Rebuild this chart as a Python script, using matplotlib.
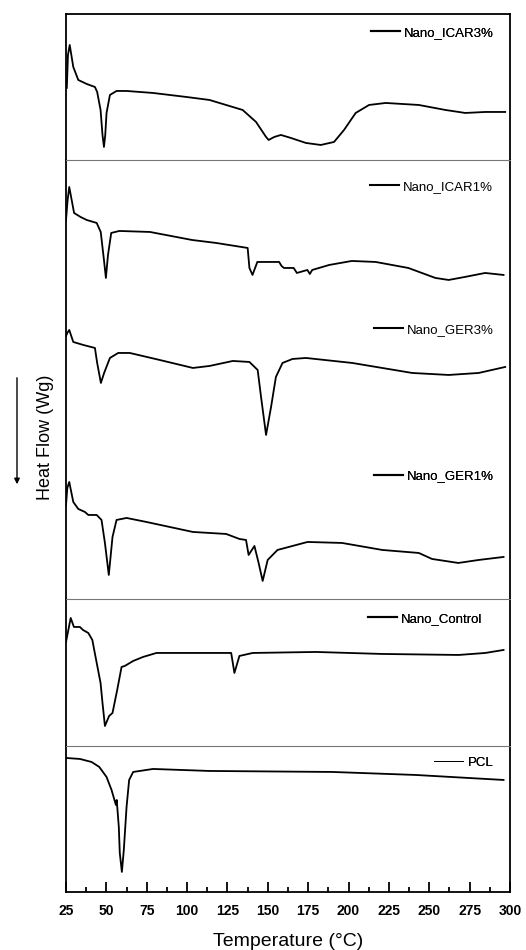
import matplotlib
matplotlib.use("Agg")
import matplotlib.pyplot as plt
from matplotlib.lines import Line2D
from matplotlib.patches import FancyArrowPatch
from matplotlib.ticker import MultipleLocator

plt.rcParams['font.family'] = ['Liberation Sans', 'DejaVu Sans']

# ---------------------------
# Data (heat flow in arbitrary units)
# ---------------------------
t_icar3 = [25.5, 26.2, 27.3, 28.5, 29.5, 32.6, 37.8, 42.9, 44.3, 46.4, 47.6, 48.5, 49.3, 50.1, 52.2,
           56.3, 62.5, 78.9, 99.5, 113.9, 120, 134.4, 142.7, 148.9, 150.5, 154, 158.1, 164.3, 173.6,
           182.8, 191, 197.2, 204.4, 212.7, 223, 243.5, 260, 272.3, 284.7, 297]
hf_icar3 = [7.2, 10.5, 11.5, 10.3, 9.3, 8.0, 7.6, 7.3, 6.8, 5.0, 2.5, 1.3, 2.5, 4.7, 6.5, 6.9, 6.9,
            6.7, 6.3, 6.0, 5.7, 5.0, 3.8, 2.3, 2.0, 2.3, 2.5, 2.2, 1.7, 1.5, 1.8, 3.0, 4.7, 5.5, 5.7,
            5.5, 5.0, 4.7, 4.8, 4.8]

t_icar1 = [25, 26, 27, 28.5, 30, 34, 37.8, 44, 46.5, 48.5, 49.7, 51, 53, 58, 77, 103, 118, 137.5,
           138.6, 140.5, 143.5, 157, 158.5, 160, 166, 168, 174.5, 176, 177.5, 188, 202, 216.8, 237,
           253.8, 262, 272, 284.6, 296]
hf_icar1 = [37.9, 39.9, 41.2, 39.9, 38.6, 38.2, 37.9, 37.6, 36.7, 33.9, 32.1, 34.4, 36.6, 36.8,
            36.7, 35.9, 35.6, 35.1, 33.1, 32.4, 33.7, 33.7, 33.3, 33.1, 33.1, 32.6, 32.9, 32.5, 32.9,
            33.4, 33.8, 33.7, 33.1, 32.1, 31.9, 32.2, 32.6, 32.4]

t_ger3 = [25, 25.8, 27, 29.5, 35.7, 42.9, 44.3, 46.6, 48.6, 52.2, 57.3, 64.5, 83, 103.6, 113.9,
          128.3, 138.6, 143.7, 145.8, 148.9, 152, 155, 159.1, 165.3, 173.6, 202.3, 239.4, 262, 280.6,
          297]
hf_ger3 = [26.3, 26.6, 26.9, 25.7, 25.4, 25.1, 23.6, 21.6, 22.6, 24.1, 24.6, 24.6, 23.9, 23.1, 23.3,
           23.8, 23.7, 22.9, 20.2, 16.4, 19.2, 22.2, 23.6, 24.0, 24.1, 23.6, 22.6, 22.4, 22.6, 23.2]

t_ger1 = [25, 25.8, 27, 29.5, 32.6, 36.7, 38.8, 44, 47, 49.1, 51.5, 53.8, 56.3, 62.5, 74.8, 103.6,
          124.2, 132.4, 136.5, 138.1, 141.7, 144.3, 146.8, 149.9, 156, 165.3, 174.6, 196, 220.9,
          243.5, 251.7, 268, 280.6, 296]
hf_ger1 = [9.4, 11.1, 11.7, 9.7, 9.0, 8.7, 8.4, 8.4, 7.9, 5.6, 2.4, 6.2, 7.9, 8.1, 7.7, 6.7, 6.5,
           6.0, 5.9, 4.4, 5.3, 3.6, 1.8, 3.9, 4.9, 5.3, 5.7, 5.6, 4.9, 4.6, 4.0, 3.6, 3.9, 4.2]

t_ctrl = [25, 27.9, 29.9, 33.6, 35.5, 38.8, 41.3, 43.3, 46.4, 47.6, 49.1, 51.7, 53.8, 56.7, 59.4,
          61.4, 66.6, 72.7, 81, 113.9, 127.3, 129.3, 132.4, 140.6, 179.7, 220.9, 268.2, 284.7, 296]
hf_ctrl = [10.4, 12.8, 11.9, 11.9, 11.6, 11.3, 10.6, 8.9, 6.3, 4.3, 2.0, 3.0, 3.3, 5.6, 7.9, 8.0,
           8.5, 8.9, 9.3, 9.3, 9.3, 7.3, 9.0, 9.3, 9.4, 9.2, 9.1, 9.3, 9.6]

t_pcl = [25, 33.6, 40.8, 45.6, 50.1, 53.2, 55.9, 56.4, 57.7, 58.3, 59.6, 60.8, 62.5, 64.1, 66.6,
         78.9, 113.9, 190, 241.5, 296]
hf_pcl = [13.4, 13.3, 13.0, 12.5, 11.5, 10.2, 8.7, 9.2, 6.5, 3.9, 2.0, 4.2, 8.5, 11.2, 12.0, 12.3,
          12.1, 12.0, 11.7, 11.2]

# panel layout: list of (temps, heat flow, label, legend x, legend y) and upper y limit
panels = [
    ([(t_icar3, hf_icar3, 'Nano_ICAR3%', 0.963, 0.87)], 14.6),
    ([(t_icar1, hf_icar1, 'Nano_ICAR1%', 0.961, 0.939),
      (t_ger3, hf_ger3, 'Nano_GER3%', 0.963, 0.613),
      (t_ger1, hf_ger1, 'Nano_GER1%', 0.963, 0.28)], 43.9),
    ([(t_ctrl, hf_ctrl, 'Nano_Control', 0.937, 0.864)], 14.7),
    ([(t_pcl, hf_pcl, 'PCL', 0.962, 0.886)], 14.6),
]

fig = plt.figure(figsize=(5.26, 9.5), dpi=100)
gs = fig.add_gridspec(4, 1, height_ratios=[146, 439, 147, 146], hspace=0,
                      left=0.1255, right=0.9696, bottom=0.0611, top=0.9853)

axes = []
for i, (curves, ytop) in enumerate(panels):
    ax = fig.add_subplot(gs[i])
    axes.append(ax)
    for t, hf, name, lx, ly in curves:
        lw_leg = 0.7 if name == 'PCL' else 1.5
        ax.plot(t, hf, color='black', lw=1.3)
        h = Line2D([], [], color='black', lw=lw_leg)
        leg = ax.legend(handles=[h], labels=[name], loc='center right',
                        bbox_to_anchor=(lx, ly), frameon=False, fontsize=9.5,
                        handlelength=2.2, handletextpad=0.3, borderpad=0, borderaxespad=0)
        ax.add_artist(leg)
    ax.set_xlim(25, 300)
    ax.set_ylim(0, ytop)
    ax.set_yticks([])
    for s in ax.spines.values():
        s.set_linewidth(1.3)
    if i > 0:
        ax.spines['top'].set_color('#777777')
        ax.spines['top'].set_linewidth(0.8)
    if i < 3:
        ax.spines['bottom'].set_visible(False)
        ax.tick_params(axis='x', which='both', bottom=False, labelbottom=False)

axb = axes[-1]
axb.xaxis.set_major_locator(MultipleLocator(25))
axb.xaxis.set_minor_locator(MultipleLocator(12.5))
axb.tick_params(axis='x', which='major', direction='in', length=7, width=1.3, labelsize=10, pad=8.5)
axb.tick_params(axis='x', which='minor', direction='in', length=3.5, width=1.3)
for lab in axb.get_xticklabels():
    lab.set_fontweight('bold')
axb.set_xlabel('Temperature (°C)', fontsize=14, labelpad=11)

fig.text(45 / 526, 1 - 437 / 950, 'Heat Flow (Wg)', rotation=90, fontsize=13,
         ha='center', va='center')
fig.add_artist(FancyArrowPatch(
    (17 / 526, 1 - 375 / 950), (17 / 526, 1 - 487 / 950), transform=fig.transFigure,
    arrowstyle='-|>', mutation_scale=8, color='black', lw=1.0))

plt.savefig('out.png', dpi=100)
